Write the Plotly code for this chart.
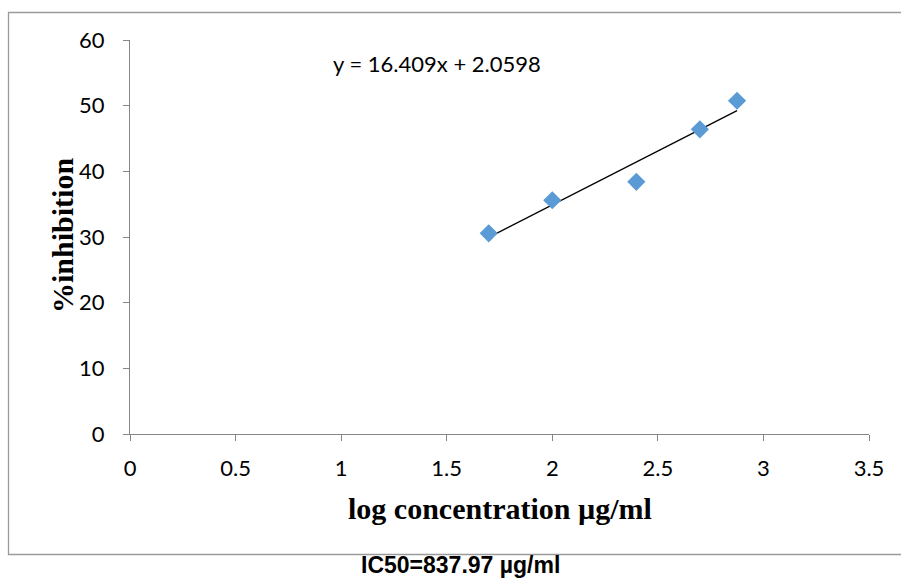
import plotly.graph_objects as go

# Data
log_conc = [1.699, 2.0, 2.398, 2.699, 2.875]
inhibition = [30.56, 35.6, 38.4, 46.4, 50.75]
slope = 16.409
intercept = 2.0598
equation_text = "y = 16.409x + 2.0598"
ic50_text = "IC50=837.97 µg/ml"
x_title = "log concentration µg/ml"
y_title = "%inhibition"
x_ticks = [0, 0.5, 1, 1.5, 2, 2.5, 3, 3.5]
y_ticks = [0, 10, 20, 30, 40, 50, 60]

W, H = 901, 581
L, R, T, B = 130, 32, 40, 147
pw, ph = W - L - R, H - T - B

def px(xp):
    return (xp - L) / pw

def py(yp):
    return (H - B - yp) / ph

trend_x = [min(log_conc), max(log_conc)]
trend_y = [slope * v + intercept for v in trend_x]

fig = go.Figure()
fig.add_trace(go.Scatter(x=trend_x, y=trend_y, mode="lines",
                         line=dict(color="black", width=1.3), hoverinfo="skip"))
fig.add_trace(go.Scatter(x=log_conc, y=inhibition, mode="markers",
                         marker=dict(symbol="diamond", size=14, color="#5B9BD5",
                                     line=dict(width=0))))

axis_common = dict(showgrid=False, zeroline=False, showline=True,
                   linecolor="#868686", linewidth=1.3, ticks="outside",
                   ticklen=6, tickcolor="#868686", tickwidth=1.3,
                   tickfont=dict(family="Lato", size=22, color="black"))

fig.update_xaxes(range=[0, 3.5], tickvals=x_ticks,
                 ticktext=[f"{v:g}" for v in x_ticks], ticklabelstandoff=8,
                 **axis_common)
fig.update_yaxes(range=[0, 60], tickvals=y_ticks,
                 ticktext=[str(v) for v in y_ticks], ticklabelstandoff=14,
                 **axis_common)

fig.add_annotation(x=px(500), y=py(508), xref="paper", yref="paper",
                   text=f"<b>{x_title}</b>", showarrow=False,
                   font=dict(family="Liberation Serif", size=30, color="black"),
                   xanchor="center", yanchor="middle")
fig.add_annotation(x=px(62), y=py(236), xref="paper", yref="paper",
                   text=f"<b>{y_title}</b>", showarrow=False, textangle=-90,
                   font=dict(family="Liberation Serif", size=30, color="black"),
                   xanchor="center", yanchor="middle")
fig.add_annotation(x=px(437), y=py(64), xref="paper", yref="paper",
                   text=equation_text, showarrow=False,
                   font=dict(family="Lato", size=22, color="black"),
                   xanchor="center", yanchor="middle")
fig.add_annotation(x=px(460), y=py(565), xref="paper", yref="paper",
                   text=f"<b>{ic50_text}</b>", showarrow=False,
                   font=dict(family="Liberation Sans", size=23, color="black"),
                   xanchor="center", yanchor="middle", borderpad=0)

fig.add_shape(type="rect", xref="paper", yref="paper",
              x0=px(8.5), x1=px(920), y0=py(554.5), y1=py(12.5),
              line=dict(color="#9a9a9a", width=1.3), fillcolor="rgba(0,0,0,0)",
              layer="below")

fig.update_layout(width=W, height=H, margin=dict(l=L, r=R, t=T, b=B),
                  paper_bgcolor="white", plot_bgcolor="white",
                  showlegend=False)

fig.write_html("out.html")
